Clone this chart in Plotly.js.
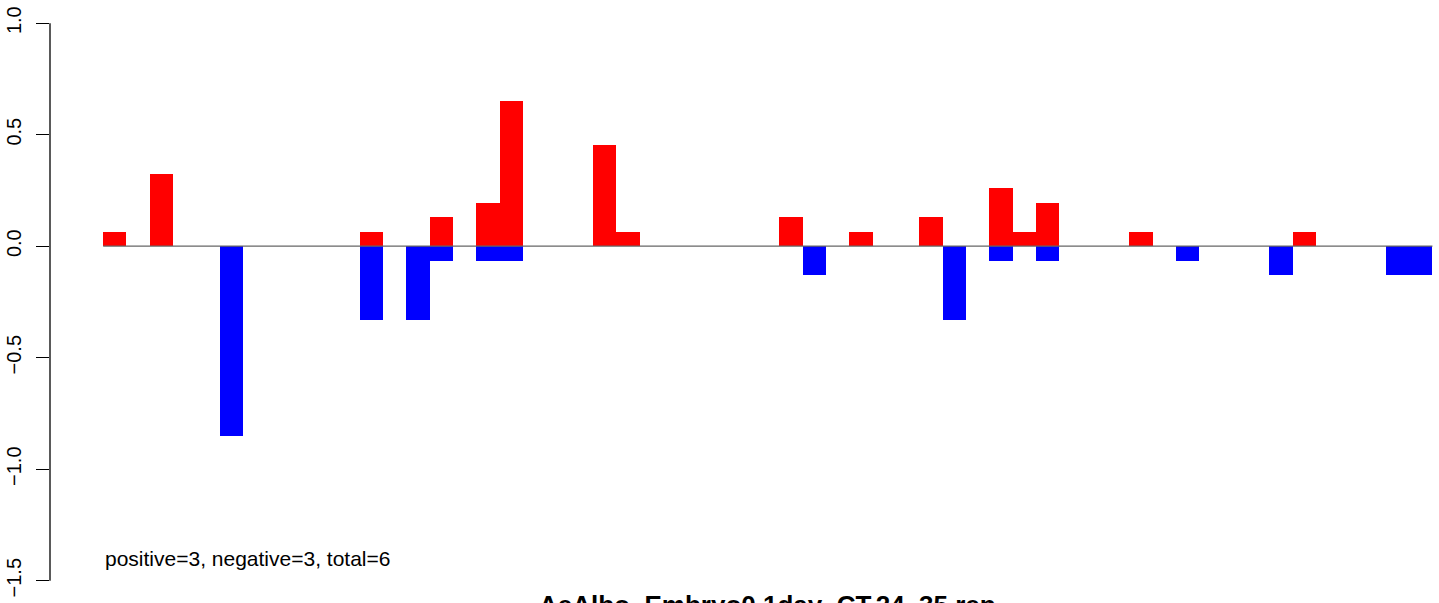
<!DOCTYPE html>
<html>
<head>
<meta charset="utf-8">
<script src="https://cdn.plot.ly/plotly-3.0.1.min.js"></script>
<style>
  html, body { margin: 0; padding: 0; background: #ffffff; overflow: hidden; }
  #chart { width: 1439px; height: 603px; }
</style>
</head>
<body>
<div id="chart"></div>
<script>
// Slot index for each of the 57 bar positions
const slots = Array.from({length: 57}, (_, i) => i);

// Positive values (red) per slot
const positiveValues = [
  0.065, 0, 0.325, 0, 0, 0, 0, 0, 0, 0,
  0, 0.065, 0, 0, 0.13, 0, 0.195, 0.65, 0, 0,
  0, 0.455, 0.065, 0, 0, 0, 0, 0, 0, 0.13,
  0, 0, 0.065, 0, 0, 0.13, 0, 0, 0.26, 0.065,
  0.195, 0, 0, 0, 0.065, 0, 0, 0, 0, 0,
  0, 0.065, 0, 0, 0, 0, 0
];

// Negative values (blue) per slot
const negativeValues = [
  0, 0, 0, 0, 0, -0.85, 0, 0, 0, 0,
  0, -0.33, 0, -0.33, -0.065, 0, -0.065, -0.065, 0, 0,
  0, 0, 0, 0, 0, 0, 0, 0, 0, 0,
  -0.13, 0, 0, 0, 0, 0, -0.33, 0, -0.065, 0,
  -0.065, 0, 0, 0, 0, 0, -0.065, 0, 0, 0,
  -0.13, 0, 0, 0, 0, -0.13, -0.13
];

const yTickValues = [-1.5, -1.0, -0.5, 0.0, 0.5, 1.0];
const yTickLabels = ["\u22121.5", "\u22121.0", "\u22120.5", "0.0", "0.5", "1.0"];

const summaryText = "positive=3, negative=3, total=6";
const chartTitle = "AeAlbo_Embryo0.1day_CT.24_35.rep";

const xCenters = slots.map(i => i + 0.5);
const nSlots = slots.length;

const traces = [
  {
    type: 'bar', x: xCenters, y: positiveValues, width: 1,
    marker: { color: '#ff0000', line: { width: 0 } },
    hoverinfo: 'skip', showlegend: false
  },
  {
    type: 'bar', x: xCenters, y: negativeValues, width: 1,
    marker: { color: '#0000ff', line: { width: 0 } },
    hoverinfo: 'skip', showlegend: false
  }
];

const FONT = '"Liberation Sans", Arial, Helvetica, sans-serif';

const layout = {
  width: 1439, height: 603,
  margin: { l: 50, r: 0, t: 0, b: 0, pad: 0 },
  paper_bgcolor: '#ffffff', plot_bgcolor: '#ffffff',
  barmode: 'overlay', bargap: 0,
  font: { family: FONT, color: '#000000' },
  xaxis: {
    range: [-2.28, 57.28],
    showgrid: false, zeroline: false, showline: false,
    showticklabels: false, ticks: ''
  },
  yaxis: {
    range: [-1.6, 1.104],
    showgrid: false, zeroline: false, showline: false,
    tickmode: 'array', tickvals: yTickValues, ticktext: yTickLabels,
    ticks: 'outside', ticklen: 13, tickwidth: 1.3, tickcolor: '#000000',
    tickangle: -90, ticklabelstandoff: 7,
    tickfont: { family: FONT, size: 20, color: '#000000' }
  },
  shapes: [
    { type: 'line', xref: 'paper', yref: 'y', x0: 0, x1: 0,
      y0: yTickValues[0], y1: yTickValues[yTickValues.length - 1],
      line: { color: '#000000', width: 1.3 } },
    { type: 'line', xref: 'x', yref: 'y', x0: 0, x1: nSlots, y0: 0, y1: 0,
      line: { color: '#666666', width: 1.3 } }
  ],
  annotations: [
    { xref: 'x', yref: 'y', x: 0, y: -1.4, xanchor: 'left', yanchor: 'middle',
      text: summaryText, showarrow: false,
      font: { family: FONT, size: 21, color: '#000000' } },
    { xref: 'x', yref: 'y', x: nSlots / 2, y: -1.532, xanchor: 'center', yanchor: 'top',
      text: '<b>' + chartTitle + '</b>', showarrow: false,
      font: { family: FONT, size: 26, color: '#000000' } }
  ]
};

Plotly.newPlot('chart', traces, layout, { staticPlot: true, displayModeBar: false });
</script>
</body>
</html>
